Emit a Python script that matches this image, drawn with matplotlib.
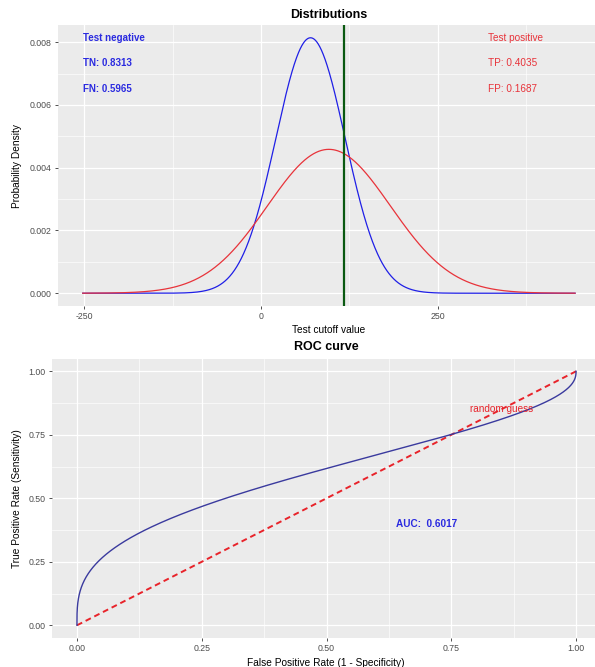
import math
import numpy as np
import matplotlib
matplotlib.use("Agg")
import matplotlib.pyplot as plt
from matplotlib.ticker import FixedLocator

plt.rcParams['font.family'] = ['Liberation Sans', 'DejaVu Sans']

# ---- data (parameters) ----
neg_mean, neg_sd = 70.0, 49.0      # test-negative distribution
pos_mean, pos_sd = 96.0, 87.0      # test-positive distribution
cutoff = 117.0
neg_labels = ["Test negative", "TN: 0.8313", "FN: 0.5965"]
pos_labels = ["Test positive", "TP: 0.4035", "FP: 0.1687"]
auc_label = "AUC:  0.6017"
dist_xticks = [-250, 0, 250]
dist_yticks = [0.000, 0.002, 0.004, 0.006, 0.008]
roc_ticks = [0.00, 0.25, 0.50, 0.75, 1.00]

BG = "#EBEBEB"
TICKC = "#4D4D4D"


def norm_pdf(x, m, s):
    return np.exp(-0.5 * ((x - m) / s) ** 2) / (s * math.sqrt(2 * math.pi))


_erf = np.vectorize(math.erf)


def norm_cdf(x, m, s):
    return 0.5 * (1 + _erf((x - m) / (s * math.sqrt(2))))


x = np.linspace(pos_mean - 4 * pos_sd, pos_mean + 4 * pos_sd, 1500)
dneg = norm_pdf(x, neg_mean, neg_sd)
dpos = norm_pdf(x, pos_mean, pos_sd)
fpr = 1 - norm_cdf(x[::-1], neg_mean, neg_sd)
tpr = 1 - norm_cdf(x[::-1], pos_mean, pos_sd)

W, H = 595, 667
fig = plt.figure(figsize=(W / 100, H / 100), dpi=100)


def px_axes(left, top, right, bottom):
    return fig.add_axes([left / W, 1 - bottom / H, (right - left) / W, (bottom - top) / H])


def style(ax):
    ax.set_facecolor(BG)
    for s in ax.spines.values():
        s.set_visible(False)
    ax.grid(True, which='major', color='white', lw=0.9)
    ax.grid(True, which='minor', color='white', lw=0.45)
    ax.set_axisbelow(True)
    ax.tick_params(which='major', length=2.5, width=0.6, color='#333333',
                   labelsize=6.3, labelcolor=TICKC, pad=2)
    ax.tick_params(which='minor', length=0)


# ---- top: distributions ----
ax1 = px_axes(58.1, 25, 599.7, 306)
style(ax1)
xr = x.max() - x.min()
ax1.set_xlim(x.min() - 0.05 * xr, x.max() + 0.05 * xr)
ym = dneg.max()
ax1.set_ylim(-0.05 * ym, 1.05 * ym)
ax1.plot(x, dneg, color='#1f1fe6', lw=0.9)
ax1.plot(x, dpos, color='#e8333a', lw=0.9)
ax1.axvline(cutoff, color='#0b5a12', lw=1.6)
ax1.xaxis.set_major_locator(FixedLocator(dist_xticks))
ax1.xaxis.set_minor_locator(FixedLocator([-125, 125, 375]))
ax1.yaxis.set_major_locator(FixedLocator(dist_yticks))
ax1.yaxis.set_minor_locator(FixedLocator([0.001, 0.003, 0.005, 0.007]))
ax1.set_xticklabels([str(v) for v in dist_xticks])
ax1.set_yticklabels([f"{v:.3f}" for v in dist_yticks])
for i, f in enumerate([1.0, 0.9, 0.8]):
    ax1.text(x.min(), ym * f, neg_labels[i], color='#2a2ae0', fontsize=7,
             fontweight='bold', ha='left', va='center')
    ax1.text(321, ym * f, pos_labels[i], color='#e8333a', fontsize=7.2,
             ha='left', va='center')
ax1.set_xlabel("Test cutoff value", fontsize=7.3)
ax1.set_ylabel("Probability Density", fontsize=7.3)
ax1.xaxis.set_label_coords((329 - 58.1) / 541.6, -(325 - 306) / 281)
ax1.yaxis.set_label_coords((22 - 58.1) / 541.6, 0.5)
ax1.text((328.5 - 58.1) / 541.6, 1 + 10 / 281, "Distributions", transform=ax1.transAxes,
         ha='center', va='center', fontsize=9, fontweight='bold')

# ---- bottom: ROC ----
ax2 = px_axes(52, 358.6, 601, 638)
style(ax2)
ax2.set_xlim(-0.05, 1.05)
ax2.set_ylim(-0.05, 1.05)
ax2.plot([0, 1], [0, 1], color='#e8232a', lw=1.4, linestyle=(0, (3, 2)))
ax2.plot(fpr, tpr, color='#3a3a9e', lw=1.0)
ax2.xaxis.set_major_locator(FixedLocator(roc_ticks))
ax2.yaxis.set_major_locator(FixedLocator(roc_ticks))
ax2.xaxis.set_minor_locator(FixedLocator([0.125, 0.375, 0.625, 0.875]))
ax2.yaxis.set_minor_locator(FixedLocator([0.125, 0.375, 0.625, 0.875]))
ax2.set_xticklabels([f"{v:.2f}" for v in roc_ticks])
ax2.set_yticklabels([f"{v:.2f}" for v in roc_ticks])
ax2.text(0.85, 0.85, "random guess", color='#e8232a', fontsize=7.2, ha='center', va='center')
ax2.text(0.70, 0.40, auc_label, color='#2a2ae0', fontsize=7.2, fontweight='bold',
         ha='center', va='center')
ax2.set_xlabel("False Positive Rate (1 - Specificity)", fontsize=7.3)
ax2.set_ylabel("True Positive Rate (Sensitivity)", fontsize=7.3)
ax2.xaxis.set_label_coords((326 - 52) / 549, -(658 - 638) / 279.4)
ax2.yaxis.set_label_coords((22 - 52) / 549, 0.5)
ax2.text((326 - 52) / 549, 1 + 12 / 279.4, "ROC curve", transform=ax2.transAxes,
         ha='center', va='center', fontsize=9, fontweight='bold')

fig.savefig("out.png", dpi=100, facecolor='white')
